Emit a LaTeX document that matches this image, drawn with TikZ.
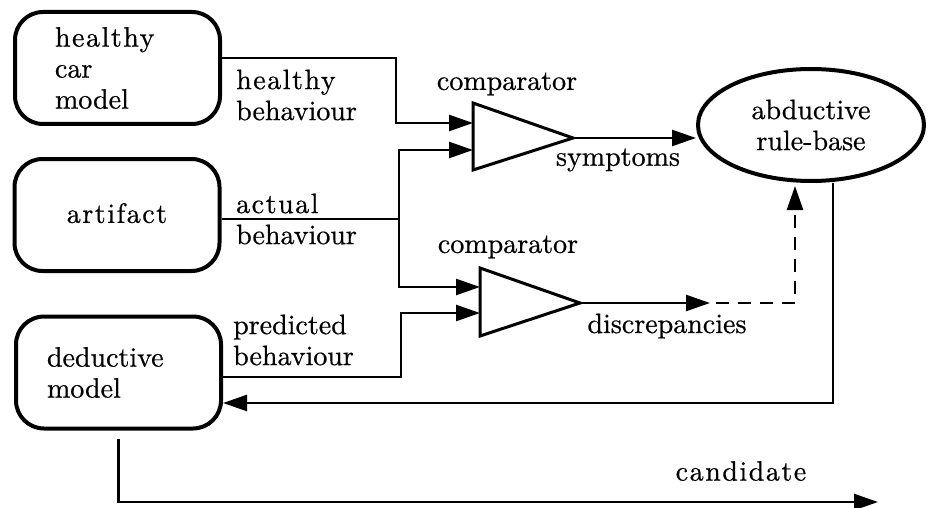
\documentclass[tikz,border=0pt]{standalone}
\usepackage{fontspec}
\setmainfont{lmroman10}[Extension=.otf, UprightFont=*-regular,
  UprightFeatures={FakeBold=0.6}]
\usetikzlibrary{arrows.meta,shapes.geometric}

% words set with a little extra tracking
\newcommand\spacedword[1]{{\addfontfeatures{LetterSpace=5.5}#1}}

\tikzset{
  blockbox/.style={draw, line width=4pt, rounded corners=28pt,
    minimum width=205pt, minimum height=112pt, inner ysep=0pt},
  rulebase/.style={draw, ellipse, line width=4pt, align=center,
    minimum width=226pt, minimum height=112pt, inner sep=0pt},
  comparatorshape/.style={line width=3pt, line join=miter},
  conn/.style={line width=2.5pt},
  tip/.style={-{Triangle[length=24pt,width=16pt]}},
  arr/.style={conn, tip},
  dashconn/.style={conn, dash pattern=on 13pt off 9pt},
  lbl/.style={inner sep=0pt, align=left},
}

\begin{document}
\begin{tikzpicture}[x=1pt, y=-1pt, font=\fontsize{28}{31}\selectfont]
  \useasboundingbox (0,0) rectangle (934,508);

  % left-hand blocks
  \node[blockbox, align=left, text width=125pt, inner xsep=40pt] (hcm) at (117.5,68)
    {\spacedword{healthy}\\car\\model};
  \node[blockbox, align=center] (art) at (117,215) {\raisebox{4pt}{\spacedword{artifact}}};
  \node[blockbox, align=left, text width=143pt, inner xsep=30pt] (ded) at (118.5,372.5)
    {deductive\\model};

  % abductive rule-base
  \node[rulebase] (rule) at (811,125) {abductive\\rule-base};

  % comparator triangles with their input and output points
  \coordinate (c1top) at (473,103);
  \coordinate (c1bot) at (473,170);
  \coordinate (c1out) at (573,138);
  \coordinate (c1a) at (473,123);
  \coordinate (c1b) at (473,150);
  \draw[comparatorshape] (c1top) -- (c1out) -- (c1bot) -- cycle;

  \coordinate (c2top) at (480,268);
  \coordinate (c2bot) at (480,336);
  \coordinate (c2out) at (580,303);
  \coordinate (c2a) at (480,287);
  \coordinate (c2b) at (480,313);
  \draw[comparatorshape] (c2top) -- (c2out) -- (c2bot) -- cycle;

  % healthy behaviour
  \draw[arr] ([yshift=10pt]hcm.east) -- (396,58) |- (c1a);

  % actual behaviour, split to both comparators
  \coordinate (aj) at (399,219);
  \draw[conn] ([yshift=-4pt]art.east) -- (aj);
  \draw[arr] (aj) |- (c1b);
  \draw[arr] (aj) |- (c2a);

  % predicted behaviour
  \draw[arr] ([yshift=-4.5pt]ded.east) -- (401,377) |- (c2b);

  % symptoms into the rule-base
  \draw[arr] (c1out) -- (c1out -| rule.west);

  % discrepancies, dashed onwards into the rule-base
  \coordinate (dend) at (710,303);
  \coordinate (dstart) at (716,303);
  \coordinate (dtop) at (795,186);
  \draw[arr] (c2out) -- (dend);
  \draw[dashconn, tip] (dstart) -| (dtop);

  % feedback from the rule-base to the deductive model
  \draw[arr] ([xshift=22pt]rule.south) |- ([yshift=-30.5pt]ded.east);

  % candidate output
  \coordinate (cand) at (878,502);
  \draw[arr] ([yshift=-8pt]ded.south) |- (cand);

  % labels
  \node[lbl, anchor=west] (lhb) at (236,95) {\spacedword{healthy}\\behaviour};
  \node[lbl, anchor=west] (lab) at (236,219) {\spacedword{actual}\\behaviour};
  \node[lbl, anchor=west] (lpb) at (233,340) {predicted\\behaviour};
  \node[lbl] (lc1) at (507,84) {comparator};
  \node[lbl] (lc2) at (508,247) {comparator};
  \node[lbl] (lsym) at (618,160) {symptoms};
  \node[lbl] (ldis) at (667,326) {discrepancies};
  \node[lbl] (lcand) at (741,471) {\spacedword{candidate}};
\end{tikzpicture}
\end{document}
